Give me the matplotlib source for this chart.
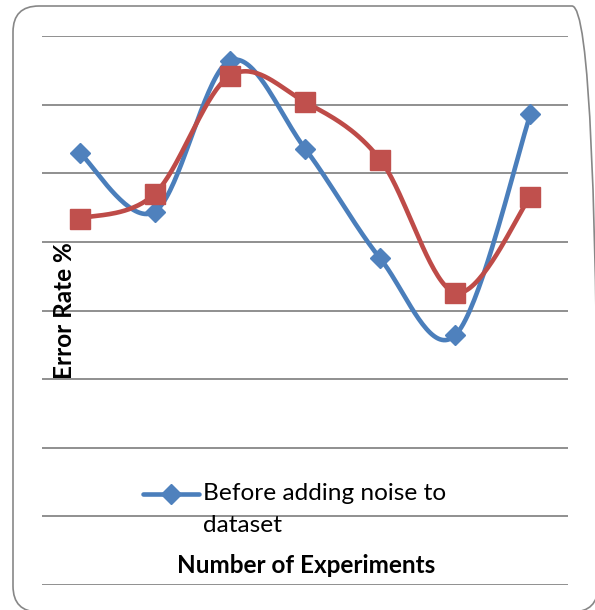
import numpy as np
import matplotlib
matplotlib.use("Agg")
import matplotlib.pyplot as plt
from matplotlib.patches import FancyBboxPatch
from matplotlib.lines import Line2D

# error rate per experiment
experiments = [1, 2, 3, 4, 5, 6, 7]
before_noise = [31.5, 27.2, 38.2, 31.8, 23.8, 18.2, 34.3]
after_noise = [26.7, 28.5, 37.1, 35.2, 31.0, 21.3, 28.3]

BLUE = '#4A7EBB'
RED = '#BE4B48'
GRID = '#878787'

W, H = 595, 610


def smooth(xs, ys, n=40):
    # excel style smoothed line: cubic bezier with catmull-rom control points
    pts = np.column_stack([xs, ys]).astype(float)
    out = []
    for i in range(len(pts) - 1):
        p0 = pts[i - 1] if i > 0 else pts[i]
        p1 = pts[i]
        p2 = pts[i + 1]
        p3 = pts[i + 2] if i + 2 < len(pts) else pts[i + 1]
        c1 = p1 + (p2 - p0) / 6.0
        c2 = p2 - (p3 - p1) / 6.0
        t = np.linspace(0, 1, n)[:, None]
        seg = ((1 - t) ** 3) * p1 + 3 * ((1 - t) ** 2) * t * c1 + 3 * (1 - t) * t ** 2 * c2 + t ** 3 * p2
        out.append(seg if i == 0 else seg[1:])
    out = np.vstack(out)
    return out[:, 0], out[:, 1]


plt.rcParams['font.family'] = ['Lato', 'DejaVu Sans']

fig = plt.figure(figsize=(W / 100, H / 100), dpi=100)

# rounded chart border, right and bottom edges run just past the image
x0, x1, y0, y1 = 13, 598, 6, 612
border = FancyBboxPatch((x0 / W, 1 - y1 / H), (x1 - x0) / W, (y1 - y0) / H,
                        boxstyle="round,pad=0,rounding_size=%f" % (26 / W),
                        mutation_aspect=W / H, transform=fig.transFigure,
                        facecolor='none', edgecolor=GRID, linewidth=1.2, zorder=0)
fig.patches.append(border)

ax = fig.add_axes([42 / W, 25 / H, 526 / W, 549 / H])
ax.set_facecolor('none')
ax.set_xlim(0.5, 7.5)
ax.set_ylim(0, 40)
ax.set_yticks(np.arange(0, 41, 5))
ax.set_xticks([])
ax.tick_params(axis='y', length=0, labelleft=False)
for s in ax.spines.values():
    s.set_visible(False)
ax.grid(axis='y', color=GRID, linewidth=1.3)
ax.set_axisbelow(True)

sx, sy = smooth(experiments, before_noise)
ax.plot(sx, sy, color=BLUE, linewidth=3.3, solid_capstyle='round', zorder=3)
ax.plot(experiments, before_noise, linestyle='none', marker='D', markersize=10.5,
        color='#4F81BD', zorder=4)

sx, sy = smooth(experiments, after_noise)
ax.plot(sx, sy, color=RED, linewidth=3.3, solid_capstyle='round', zorder=5)
ax.plot(experiments, after_noise, linestyle='none', marker='s', markersize=14,
        color='#C0504D', zorder=6)

# axis titles sit inside the plot area
ax.text(0.042, 0.5, 'Error Rate %', transform=ax.transAxes, rotation=90,
        ha='center', va='center', fontsize=17.5, fontweight='bold')
ax.text(0.502, 0.036, 'Number of Experiments', transform=ax.transAxes,
        ha='center', va='center', fontsize=17.5, fontweight='bold')

# legend entry (only the first series fits)
fig.add_artist(Line2D([143 / W, 199 / W], [1 - 494 / H, 1 - 494 / H],
                      color=BLUE, linewidth=3.3, solid_capstyle='round'))
fig.add_artist(Line2D([171 / W], [1 - 494 / H], marker='D', markersize=10.5,
                      color='#4F81BD', linestyle='none'))
fig.text(203 / W, 1 - 483 / H, 'Before adding noise to\ndataset', ha='left',
         va='top', fontsize=17.6, linespacing=1.65)

fig.savefig('out.png', dpi=100)
